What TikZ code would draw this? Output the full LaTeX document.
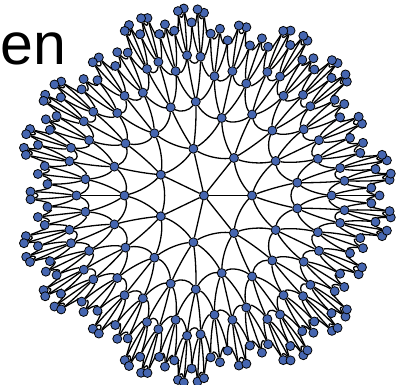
\documentclass[tikz,border=0pt]{standalone}
\usepackage{fontspec}
\setmainfont{Liberation Sans}
\usetikzlibrary{backgrounds}

\definecolor{dotblue}{RGB}{70,102,176}

\tikzset{
  dot/.style={circle, draw=black, line width=0.8pt, fill=dotblue,
    minimum size=9pt, inner sep=0pt},
  link/.style={line width=1.3pt},
}

% {3,7} tiling on the hyperboloid
\edef\Ce{\fpeval{1/(2*(sin(pi/7))^2)-1}} % cosh of the edge length
\edef\Se{\fpeval{sqrt(\Ce^2-1)}}
\edef\Ph{\fpeval{2*cos(2*pi/7)}}
\edef\Nm{\fpeval{sqrt(2+2*\Ce)}}
\def\Kpx{44} % px per unit of distance

\newcount\newidx
\def\sto#1#2{\expandafter\xdef\csname#1\endcsname{#2}}
\def\get#1{\csname#1\endcsname}

% ring 0 and ring 1
\sto{vT@0@0}{1}\sto{vX@0@0}{0}\sto{vY@0@0}{0}\sto{nr@0}{1}
\foreach \j in {0,...,6}{
  \sto{vT@1@\j}{\Ce}
  \sto{vX@1@\j}{\fpeval{\Se*cos(2*pi*\j/7)}}
  \sto{vY@1@\j}{\fpeval{\Se*sin(2*pi*\j/7)}}
  \sto{np@1@\j}{1}\sto{pf@1@\j}{0}
}
\sto{nr@1}{7}

% ring #1+1 from ring #1
\def\grow#1{%
  \edef\kn{\the\numexpr#1+1\relax}\edef\kp{\the\numexpr#1-1\relax}%
  \edef\nk{\get{nr@#1}}%
  \global\newidx=0
  \edef\nl{\the\numexpr\nk-1\relax}%
  \foreach \i in {0,...,\nl}{%
    \pgfmathtruncatemacro\ip{mod(\i+\nk-1,\nk)}%
    \edef\pp{\get{pf@#1@\i}}%
    \edef\nc{\the\numexpr5-\get{np@#1@\i}\relax}%
    \foreach \q in {T,X,Y}{%
      \sto{a\q}{\get{v\q@\kp@\pp}}%
      \sto{b\q}{\get{v\q@#1@\ip}}%
    }%
    \foreach \j in {1,...,\nc}{%
      \foreach \q in {T,X,Y}{%
        \sto{n\q}{\fpeval{\Ph*(\get{v\q@#1@\i}+\get{b\q})-\get{a\q}}}%
        \sto{a\q}{\get{b\q}}\sto{b\q}{\get{n\q}}%
        \ifnum\j<\nc \sto{v\q@\kn@\the\newidx}{\get{n\q}}\fi
      }%
      \ifnum\j<\nc
        \ifnum\j=1 \sto{np@\kn@\the\newidx}{2}\sto{pf@\kn@\the\newidx}{\ip}%
        \else \sto{np@\kn@\the\newidx}{1}\sto{pf@\kn@\the\newidx}{\i}\fi
        \global\advance\newidx by 1
      \fi
    }%
  }%
  \sto{nr@\kn}{\the\newidx}%
}
\grow{1}\grow{2}\grow{3}

% distance-true map of a point
\def\proj#1#2#3{%
  \xdef\pjs{\fpeval{sqrt((#1)^2-1)}}%
  \xdef\pjf{\fpeval{\Kpx*ln(#1+\pjs)/\pjs}}%
  \xdef\pjx{\fpeval{round(\pjf*(#2),3)}}%
  \xdef\pjy{\fpeval{round(\pjf*(#3),3)}}}

\sto{px@0@0}{0}\sto{py@0@0}{0}
\foreach \k in {1,...,4}{
  \edef\nl{\the\numexpr\get{nr@\k}-1\relax}
  \foreach \i in {0,...,\nl}{
    \proj{\get{vT@\k@\i}}{\get{vX@\k@\i}}{\get{vY@\k@\i}}
    \sto{px@\k@\i}{\pjx}\sto{py@\k@\i}{\pjy}
  }}

% geodesic edge, bent through its midpoint
\def\link#1#2#3#4{%
  \proj{(\get{vT@#1@#2}+\get{vT@#3@#4})/\Nm}%
       {(\get{vX@#1@#2}+\get{vX@#3@#4})/\Nm}%
       {(\get{vY@#1@#2}+\get{vY@#3@#4})/\Nm}%
  \edef\cax{\fpeval{round((4*\pjx-\get{px@#3@#4})/3,3)}}%
  \edef\cay{\fpeval{round((4*\pjy-\get{py@#3@#4})/3,3)}}%
  \edef\cbx{\fpeval{round((4*\pjx-\get{px@#1@#2})/3,3)}}%
  \edef\cby{\fpeval{round((4*\pjy-\get{py@#1@#2})/3,3)}}%
  \draw[link] (v#1-#2) .. controls (\cax,\cay) and (\cbx,\cby) .. (v#3-#4);}

\begin{document}
\begin{tikzpicture}[x=1pt,y=1pt]
\useasboundingbox (0,0) rectangle (398,384);
\node[font=\fontsize{59}{59}\selectfont, anchor=base west, inner sep=0pt] (label) at (0.2,320) {en};

\begin{scope}[shift={(204,188.5)}]
  % nodes
  \node[dot] (v0-0) at (0,0) {};
  \foreach \k in {1,...,4}{
    \edef\nl{\the\numexpr\get{nr@\k}-1\relax}
    \foreach \i in {0,...,\nl}{
      \edef\xx{\get{px@\k@\i}}\edef\yy{\get{py@\k@\i}}
      \node[dot] (v\k-\i) at (\xx,\yy) {};
    }}

  \begin{pgfonlayer}{background}
    % spokes
    \foreach \j in {0,...,6} {\link{0}{0}{1}{\j}}
    % rings
    \foreach \k in {1,...,4}{
      \edef\nl{\the\numexpr\get{nr@\k}-1\relax}
      \foreach \i in {0,...,\nl}{
        \pgfmathtruncatemacro\inx{mod(\i+1,\get{nr@\k})}
        \link{\k}{\i}{\k}{\inx}
      }}
    % to parents
    \foreach \k in {2,3,4}{
      \edef\kp{\the\numexpr\k-1\relax}
      \edef\nl{\the\numexpr\get{nr@\k}-1\relax}
      \foreach \i in {0,...,\nl}{
        \edef\pp{\get{pf@\k@\i}}
        \link{\kp}{\pp}{\k}{\i}
        \ifnum\get{np@\k@\i}=2
          \pgfmathtruncatemacro\pq{mod(\pp+1,\get{nr@\kp})}
          \link{\kp}{\pq}{\k}{\i}
        \fi
      }}
  \end{pgfonlayer}
\end{scope}
\end{tikzpicture}
\end{document}
